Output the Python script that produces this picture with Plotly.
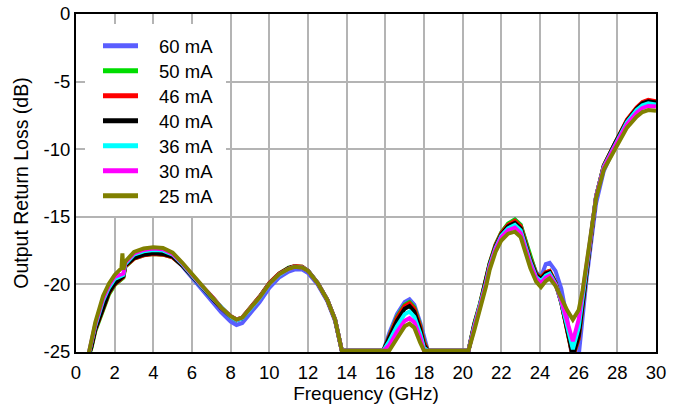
import plotly.graph_objects as go

# Frequency grid (GHz), shared by all series
freq = [0.6, 0.8, 1.0, 1.4, 1.7, 2.0, 2.35, 2.4, 2.45, 2.55,
        3.0, 3.5, 4.0, 4.5, 5.0, 5.5, 6.0, 6.5, 7.0, 7.5,
        8.0, 8.3, 8.6, 9.0, 9.5, 10.0, 10.5, 11.0, 11.3, 11.7,
        12.0, 12.5, 13.0, 13.4, 13.75, 15.9, 16.2, 16.6, 17.0, 17.25,
        17.5, 17.8, 18.0, 18.2, 20.3, 20.6, 20.9, 21.2, 21.4, 21.7,
        22.0, 22.35, 22.7, 23.0, 23.5, 23.8, 24.05, 24.3, 24.5, 24.8,
        25.1, 25.4, 25.7, 26.0, 26.2, 26.4, 26.6, 26.9, 27.3, 27.9,
        28.5, 29.0, 29.3, 29.6, 30.0]

rl_60mA = [-25.5, -24.4, -23.1, -21.4, -20.4, -19.75, -19.4, -19.4, -19.35, -18.55,
           -17.95, -17.7, -17.6, -17.7, -17.95, -18.65, -19.5, -20.35, -21.15, -22.05,
           -22.75, -23.0, -22.85, -22.2, -21.3, -20.25, -19.5, -19.05, -18.9, -18.9,
           -19.15, -20.0, -21.25, -22.7, -24.9,
           -24.9, -23.6, -22.2, -21.3, -21.1, -21.5, -22.8, -24.0, -24.9,
           -24.9, -23.0, -21.5, -19.8, -18.5, -17.15, -16.2, -15.55, -15.2, -15.6,
           -18.0, -19.1, -19.45, -18.5, -18.4, -19.0, -20.3, -22.5, -26.0, -25.3,
           -22.3, -19.7, -17.4, -14.0, -11.6, -9.7, -8.0, -7.0, -6.65, -6.5, -6.6]

rl_50mA = [-25.5, -24.7, -23.45, -21.8, -20.75, -20.05, -19.55, -19.55, -19.5, -18.7,
           -18.1, -17.85, -17.75, -17.8, -18.0, -18.6, -19.4, -20.15, -20.85, -21.7,
           -22.35, -22.6, -22.45, -21.75, -20.9, -19.9, -19.2, -18.75, -18.65, -18.7,
           -19.0, -19.9, -21.15, -22.6, -24.9,
           -24.9, -23.8, -22.4, -21.5, -21.3, -21.7, -23.0, -24.2, -24.9,
           -24.9, -22.9, -21.4, -19.7, -18.4, -17.05, -16.15, -15.5, -15.2, -15.6,
           -18.0, -19.2, -19.5, -19.1, -19.0, -19.85, -21.3, -23.4, -25.4, -24.0,
           -21.4, -19.2, -16.9, -13.5, -11.2, -9.45, -7.85, -6.95, -6.55, -6.4, -6.5]

rl_46mA = [-25.5, -24.6, -23.35, -21.7, -20.65, -20.0, -19.5, -19.5, -19.45, -18.65,
           -18.1, -17.85, -17.75, -17.8, -18.0, -18.6, -19.4, -20.15, -20.85, -21.7,
           -22.35, -22.6, -22.45, -21.75, -20.9, -19.9, -19.2, -18.8, -18.65, -18.7,
           -19.0, -19.9, -21.15, -22.6, -24.9,
           -24.9, -23.9, -22.5, -21.6, -21.4, -21.8, -23.1, -24.3, -24.9,
           -24.9, -22.95, -21.45, -19.75, -18.45, -17.1, -16.2, -15.6, -15.3, -15.7,
           -18.1, -19.25, -19.5, -19.1, -19.0, -19.85, -21.35, -23.4, -25.4, -24.0,
           -21.4, -19.2, -16.9, -13.5, -11.2, -9.45, -7.8, -6.9, -6.5, -6.35, -6.45]

rl_40mA = [-25.5, -24.6, -23.3, -21.65, -20.6, -19.95, -19.45, -19.45, -19.4, -18.6,
           -18.05, -17.8, -17.7, -17.75, -17.95, -18.6, -19.4, -20.2, -20.9, -21.75,
           -22.4, -22.65, -22.5, -21.8, -20.95, -19.95, -19.25, -18.8, -18.7, -18.75,
           -19.0, -19.9, -21.15, -22.6, -24.9,
           -24.9, -24.0, -22.7, -21.8, -21.6, -22.0, -23.3, -24.5, -24.9,
           -24.9, -23.0, -21.5, -19.8, -18.5, -17.2, -16.3, -15.7, -15.45, -15.85,
           -18.2, -19.3, -19.6, -19.2, -19.1, -19.9, -21.35, -23.3, -25.3, -23.8,
           -21.3, -19.1, -16.9, -13.5, -11.25, -9.5, -7.9, -7.0, -6.6, -6.45, -6.55]

rl_36mA = [-25.5, -24.3, -23.05, -21.2, -20.25, -19.6, -19.3, -19.3, -19.3, -18.5,
           -17.8, -17.55, -17.45, -17.5, -17.8, -18.5, -19.35, -20.15, -20.9, -21.7,
           -22.4, -22.65, -22.5, -21.85, -21.0, -20.0, -19.3, -18.85, -18.7, -18.75,
           -19.0, -19.9, -21.15, -22.6, -24.9,
           -24.9, -24.2, -23.1, -22.2, -22.0, -22.4, -23.6, -24.7, -24.9,
           -24.9, -23.1, -21.6, -19.9, -18.6, -17.3, -16.4, -15.85, -15.6, -16.0,
           -18.35, -19.45, -19.75, -19.35, -19.2, -19.95, -21.3, -23.0, -24.8, -23.2,
           -21.0, -18.9, -16.8, -13.5, -11.3, -9.6, -8.0, -7.1, -6.75, -6.6, -6.7]

rl_30mA = [-25.5, -24.2, -22.95, -21.05, -20.1, -19.45, -19.2, -19.2, -19.2, -18.4,
           -17.7, -17.45, -17.35, -17.4, -17.75, -18.45, -19.3, -20.1, -20.85, -21.7,
           -22.35, -22.6, -22.45, -21.8, -20.95, -19.95, -19.25, -18.85, -18.7, -18.75,
           -19.0, -19.9, -21.15, -22.6, -24.9,
           -24.9, -24.5, -23.5, -22.7, -22.5, -22.8, -23.9, -24.9, -24.9,
           -24.9, -23.2, -21.7, -20.0, -18.7, -17.4, -16.5, -16.0, -15.8, -16.2,
           -18.5, -19.55, -19.9, -19.5, -19.35, -20.0, -21.2, -22.6, -24.2, -22.6,
           -20.7, -18.8, -16.7, -13.5, -11.35, -9.7, -8.15, -7.3, -6.95, -6.8, -6.85]

rl_25mA = [-25.5, -24.0, -22.8, -20.85, -19.95, -19.3, -18.8, -17.7, -18.9, -18.3,
           -17.6, -17.35, -17.25, -17.3, -17.65, -18.4, -19.25, -20.1, -20.85, -21.7,
           -22.35, -22.6, -22.45, -21.8, -20.95, -19.95, -19.25, -18.85, -18.7, -18.75,
           -19.0, -19.9, -21.15, -22.6, -24.9,
           -24.9, -24.9, -24.0, -23.1, -22.9, -23.2, -24.3, -24.9, -24.9,
           -24.9, -23.4, -21.9, -20.2, -18.9, -17.6, -16.75, -16.25, -16.1, -16.5,
           -18.8, -19.8, -20.2, -19.75, -19.55, -20.1, -21.0, -21.9, -22.6, -21.9,
           -20.5, -18.6, -16.6, -13.6, -11.5, -9.9, -8.4, -7.6, -7.25, -7.1, -7.15]

series_names = ["60 mA", "50 mA", "46 mA", "40 mA", "36 mA", "30 mA", "25 mA"]
series_values = [rl_60mA, rl_50mA, rl_46mA, rl_40mA, rl_36mA, rl_30mA, rl_25mA]
series_colors = ["#5a5eff", "#00dd00", "#ff0000", "#000000", "#00ffff", "#ff00ff", "#808000"]

x_ticks = list(range(0, 31, 2))
y_ticks = [0, -5, -10, -15, -20, -25]

FONT = "Liberation Sans"
W, H = 678, 409
ML, MR, MT, MB = 76, 22, 14, 57
PW, PH = W - ML - MR, H - MT - MB


def px_x(p):  # page pixel -> paper fraction
    return (p - ML) / PW


def px_y(p):
    return (H - MB - p) / PH


fig = go.Figure()
for name, vals, col in zip(series_names, series_values, series_colors):
    fig.add_trace(go.Scatter(x=freq, y=vals, mode="lines", name=name,
                             line=dict(color=col, width=4), showlegend=False))

# Legend box (drawn as layout shapes + text)
shapes = [dict(type="rect", xref="paper", yref="paper",
               x0=px_x(85), x1=px_x(226), y0=px_y(216), y1=px_y(24),
               fillcolor="white", line=dict(width=0), layer="above")]
annotations = []
for i, (name, col) in enumerate(zip(series_names, series_colors)):
    yc = 45.7 + 25 * i
    shapes.append(dict(type="line", xref="paper", yref="paper",
                       x0=px_x(103), x1=px_x(138), y0=px_y(yc), y1=px_y(yc),
                       line=dict(color=col, width=5), layer="above"))
    annotations.append(dict(text=name, xref="paper", yref="paper",
                            x=px_x(157), y=px_y(yc + 1), xanchor="left", yanchor="middle",
                            showarrow=False,
                            font=dict(family=FONT, size=18.5, color="black")))

fig.update_layout(
    width=W, height=H,
    margin=dict(l=ML, r=MR, t=MT, b=MB, autoexpand=False),
    paper_bgcolor="white", plot_bgcolor="white",
    font=dict(family=FONT, size=18.5, color="black"),
    showlegend=False,
    shapes=shapes,
    annotations=annotations,
    xaxis=dict(range=[0, 30], tickvals=x_ticks, ticktext=[str(v) for v in x_ticks],
               showgrid=True, gridcolor="#b4b4b4", gridwidth=2,
               showline=True, linecolor="black", linewidth=2, mirror=True,
               ticks="", zeroline=False, ticklabelstandoff=3,
               title=dict(text="Frequency (GHz)", standoff=4,
                          font=dict(family=FONT, size=19)),
               tickfont=dict(family=FONT, size=18.5)),
    yaxis=dict(range=[-25, 0], tickvals=y_ticks, ticktext=[str(v) for v in y_ticks],
               showgrid=True, gridcolor="#b4b4b4", gridwidth=2,
               showline=True, linecolor="black", linewidth=2, mirror=True,
               ticks="", zeroline=False,
               title=dict(text="Output Return Loss (dB)", standoff=10,
                          font=dict(family=FONT, size=19.5)),
               tickfont=dict(family=FONT, size=18.5)),
)

fig.write_html("out.html")
